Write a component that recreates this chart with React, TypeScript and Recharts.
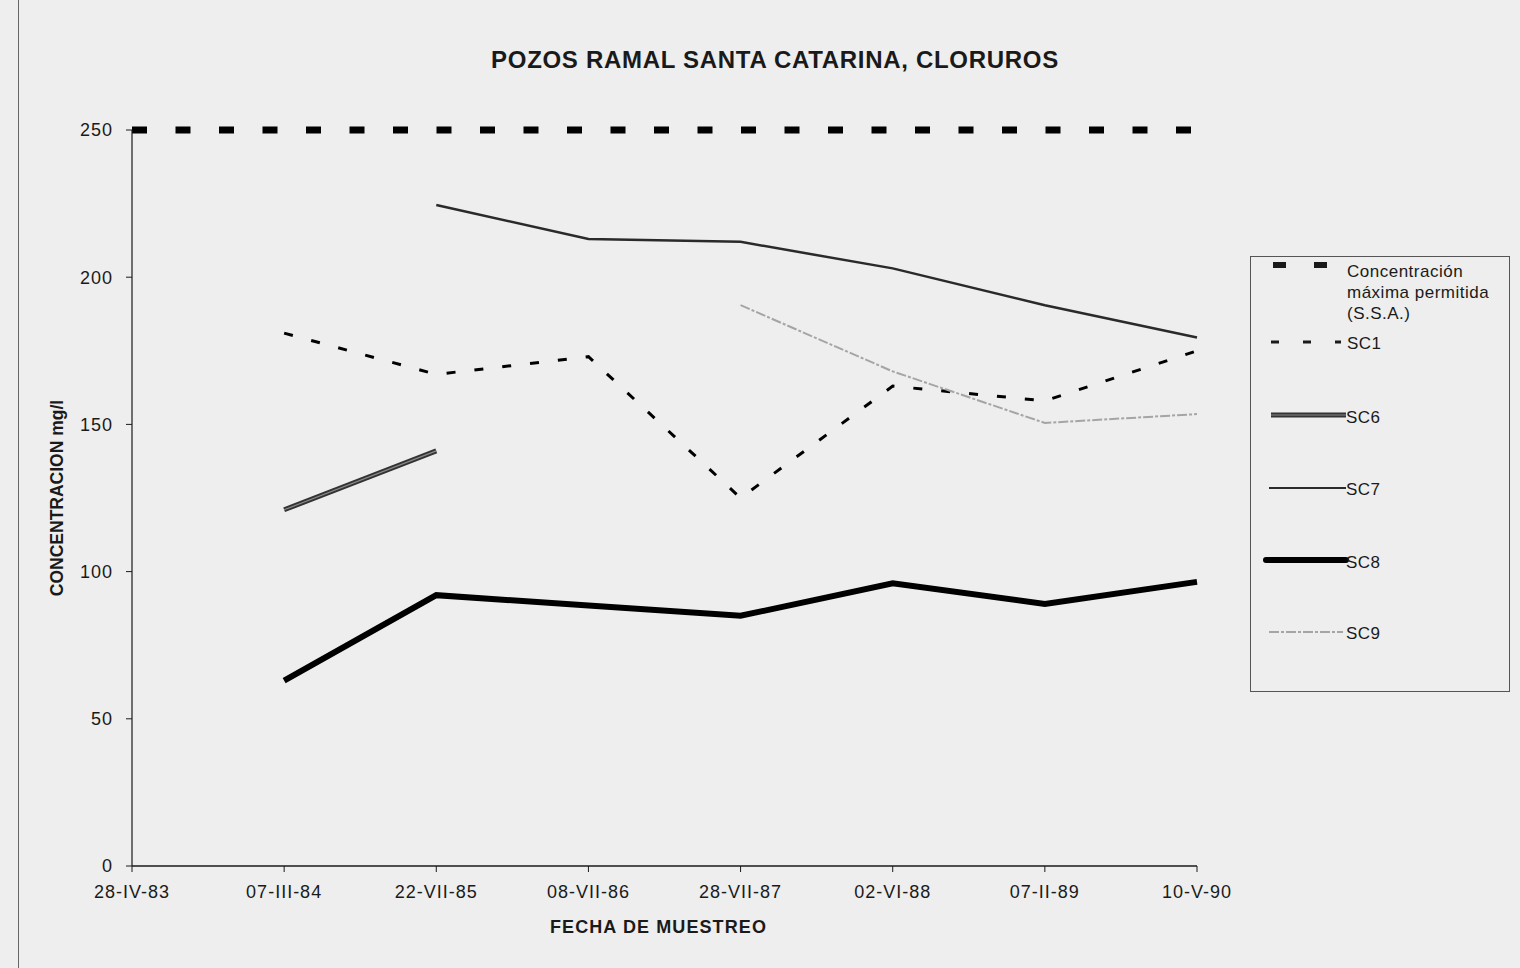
import React from 'react';
import { LineChart, Line, XAxis, YAxis, Legend } from 'recharts';

const CATEGORIES = ['28-IV-83', '07-III-84', '22-VII-85', '08-VII-86', '28-VII-87', '02-VI-88', '07-II-89', '10-V-90'];
const LIMIT = [250, 250, 250, 250, 250, 250, 250, 250];
const SC1 = [null, 181, 167, 173, 125, 163, 158, 175];
const SC6 = [null, 121, 141, null, null, null, null, null];
const SC7 = [null, null, 224.5, 213, 212, 203, 190.5, 179.5];
const SC8 = [null, 63, 92, 88.5, 85, 96, 89, 96.5];
const SC9 = [null, null, null, null, 190.5, 168, 150.5, 153.5];
const Y_TICKS = [0, 50, 100, 150, 200, 250];

const TITLE = 'POZOS RAMAL SANTA CATARINA, CLORUROS';
const X_TITLE = 'FECHA DE MUESTREO';
const Y_TITLE = 'CONCENTRACION mg/l';
const LIMIT_NAME = ['Concentración', 'máxima permitida', '(S.S.A.)'];

const data = CATEGORIES.map((c, i) => ({
  fecha: c,
  limite: LIMIT[i],
  SC1: SC1[i],
  SC6: SC6[i],
  SC7: SC7[i],
  SC8: SC8[i],
  SC9: SC9[i],
}));

const FONT = '"Liberation Sans", Arial, sans-serif';
const BG = '#eeeeee';
const INK = '#1a1a1a';

const LEG_TEXT = { fontFamily: FONT, fontSize: 17, letterSpacing: 0.5, fill: INK } as const;

const renderLegend = () => (
  <div
    style={{
      width: 260,
      height: 436,
      border: '1px solid #555',
      boxSizing: 'border-box',
      background: 'transparent',
    }}
  >
    <svg width={258} height={434} style={{ display: 'block' }}>
      {/* limit */}
      <line x1={22} x2={78} y1={8} y2={8} stroke={INK} strokeWidth={6} strokeDasharray="13 28" />
      {LIMIT_NAME.map((t, i) => (
        <text key={t} x={96} y={14 + i * 21} dominantBaseline="central" {...LEG_TEXT}>
          {t}
        </text>
      ))}
      {/* SC1 */}
      <line x1={20} x2={90} y1={85} y2={85} stroke={INK} strokeWidth={3} strokeDasharray="8 24" />
      <text x={96} y={86} dominantBaseline="central" {...LEG_TEXT}>SC1</text>
      {/* SC6 */}
      <line x1={20} x2={95} y1={158} y2={158} stroke="#333" strokeWidth={5} />
      <line x1={20} x2={95} y1={158} y2={158} stroke="#8a8a8a" strokeWidth={1.2} />
      <text x={95} y={160} dominantBaseline="central" {...LEG_TEXT}>SC6</text>
      {/* SC7 */}
      <line x1={18} x2={95} y1={231} y2={231} stroke="#2a2a2a" strokeWidth={2} />
      <text x={95} y={232} dominantBaseline="central" {...LEG_TEXT}>SC7</text>
      {/* SC8 */}
      <line x1={15} x2={95} y1={303} y2={303} stroke="#000" strokeWidth={6} strokeLinecap="round" />
      <text x={95} y={305} dominantBaseline="central" {...LEG_TEXT}>SC8</text>
      {/* SC9 */}
      <line x1={18} x2={92} y1={375} y2={375} stroke="#a5a5a5" strokeWidth={2} strokeDasharray="10 2 3 2" />
      <text x={95} y={376} dominantBaseline="central" {...LEG_TEXT}>SC9</text>
    </svg>
  </div>
);

const YLabel = (props: any) => {
  const vb = props.viewBox || {};
  const cx = 57;
  const cy = (vb.y || 0) + (vb.height || 0) / 2;
  return (
    <text
      x={cx}
      y={cy}
      transform={`rotate(-90 ${cx} ${cy})`}
      textAnchor="middle"
      dominantBaseline="central"
      fontFamily={FONT}
      fontWeight="bold"
      fontSize={17.5}
      fill={INK}
    >
      {Y_TITLE}
    </text>
  );
};

const XLabel = (props: any) => {
  const vb = props.viewBox || {};
  const cx = (vb.x || 0) + (vb.width || 0) / 2 - 6;
  const cy = (vb.y || 0) + 61;
  return (
    <text
      x={cx}
      y={cy}
      textAnchor="middle"
      dominantBaseline="central"
      fontFamily={FONT}
      fontWeight="bold"
      fontSize={18}
      letterSpacing={1.1}
      fill={INK}
    >
      {X_TITLE}
    </text>
  );
};

export default function App() {
  return (
    <div
      style={{
        position: 'absolute',
        left: 0,
        top: 0,
        width: 1520,
        height: 968,
        background: BG,
        overflow: 'hidden',
        fontFamily: FONT,
      }}
    >
      <div style={{ position: 'absolute', left: 18, top: 0, width: 1, height: 968, background: '#666' }} />
      <div
        style={{
          position: 'absolute',
          left: 0,
          top: 47,
          width: 1550,
          textAlign: 'center',
          fontSize: 24,
          fontWeight: 'bold',
          letterSpacing: 0.7,
          color: INK,
          lineHeight: '26px',
          whiteSpace: 'nowrap',
        }}
      >
        {TITLE}
      </div>
      <LineChart
        width={1520}
        height={968}
        data={data}
        margin={{ top: 130, right: 323, bottom: 0, left: 0 }}
        style={{ position: 'absolute', left: 0, top: 0 }}
      >
        <XAxis
          dataKey="fecha"
          height={102}
          interval={0}
          tickSize={6}
          tickMargin={13}
          axisLine={{ stroke: INK, strokeWidth: 1.5 }}
          tickLine={{ stroke: INK }}
          tick={{ fontFamily: FONT, fontSize: 18, fill: INK, letterSpacing: 1 }}
          label={<XLabel />}
        />
        <YAxis
          width={132}
          domain={[0, 250]}
          ticks={Y_TICKS}
          interval={0}
          tickSize={6}
          tickMargin={13}
          axisLine={{ stroke: INK, strokeWidth: 1.2 }}
          tickLine={{ stroke: INK }}
          tick={{ fontFamily: FONT, fontSize: 18, fill: INK, letterSpacing: 1 }}
          label={<YLabel />}
        />
        <Legend
          layout="horizontal"
          align="center"
          verticalAlign="middle"
          content={renderLegend}
          wrapperStyle={{ position: 'absolute', left: 1250, top: 256, width: 260, height: 436 }}
        />
        <Line
          dataKey="limite"
          name="Concentración máxima permitida (S.S.A.)"
          stroke="#000"
          strokeWidth={7}
          strokeDasharray="15 28.5"
          dot={false}
          activeDot={false}
          isAnimationActive={false}
        />
        <Line
          dataKey="SC1"
          name="SC1"
          stroke="#000"
          strokeWidth={3}
          strokeDasharray="9 19"
          dot={false}
          activeDot={false}
          isAnimationActive={false}
        />
        <Line
          dataKey="SC6"
          name="SC6"
          stroke="#333"
          strokeWidth={5}
          dot={false}
          activeDot={false}
          isAnimationActive={false}
        />
        <Line
          dataKey="SC6"
          name="SC6 (interior)"
          legendType="none"
          stroke="#8a8a8a"
          strokeWidth={1.2}
          dot={false}
          activeDot={false}
          isAnimationActive={false}
        />
        <Line
          dataKey="SC7"
          name="SC7"
          stroke="#2a2a2a"
          strokeWidth={2.5}
          dot={false}
          activeDot={false}
          isAnimationActive={false}
        />
        <Line
          dataKey="SC8"
          name="SC8"
          stroke="#000"
          strokeWidth={6}
          dot={false}
          activeDot={false}
          isAnimationActive={false}
        />
        <Line
          dataKey="SC9"
          name="SC9"
          stroke="#a5a5a5"
          strokeWidth={2}
          strokeDasharray="10 2 3 2"
          dot={false}
          activeDot={false}
          isAnimationActive={false}
        />
      </LineChart>
    </div>
  );
}
